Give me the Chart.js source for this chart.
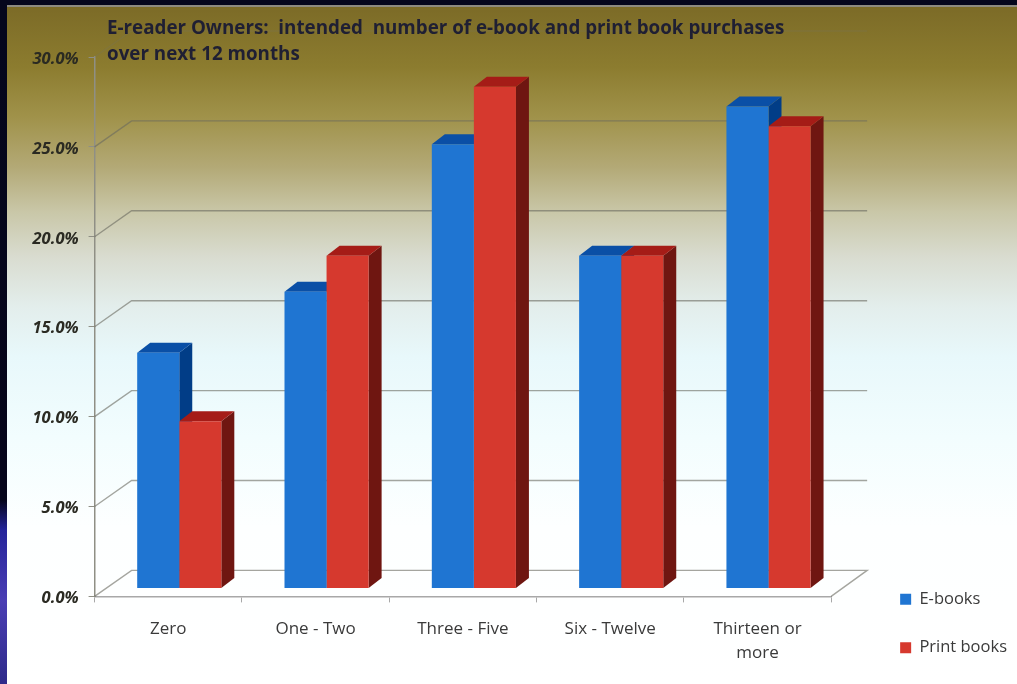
<!DOCTYPE html>
<html>
<head>
<meta charset="utf-8">
<script src="https://cdn.jsdelivr.net/npm/chart.js@4"></script>
<style>
    html, body { margin: 0; padding: 0; width: 1017px; height: 684px; overflow: hidden; }
    body { background: linear-gradient(180deg, #05061c 0, #05051a 500px, #24249a 530px, #4a3eb4 600px, #2e2a8a 684px); }
    #panel {
        position: absolute; left: 7px; top: 5px; width: 1010px; height: 679px;
        border-top: 2px solid #8d8a80; box-sizing: border-box;
        background: linear-gradient(180deg, #7c6b27 0, #8c7c2f 60px, #a0924a 110px, #b3a976 160px,
            #c9c7a8 205px, #d9dcd0 250px, #e3eeec 300px, #e8f8fb 350px, #f2fdfe 430px, #fdffff 520px, #ffffff 679px);
    }
    #wrap { position: absolute; left: 0; top: 0; width: 1017px; height: 684px; }
    canvas { filter: blur(0.5px); }
</style>
</head>
<body>
<div id="panel"></div>
<div id="wrap"><canvas id="purchaseChart" width="1017" height="684"></canvas></div>
<script>
// Values (percent of e-reader owners)
const categories = ['Zero', 'One - Two', 'Three - Five', 'Six - Twelve', ['Thirteen or', 'more']];
const ebooks = [13.1, 16.5, 24.7, 18.5, 26.8];
const printBooks = [9.3, 18.5, 27.9, 18.5, 25.7];
const titleLines = [
    'E-reader Owners:  intended  number of e-book and print book purchases',
    'over next 12 months'
];

// Fake 3D look: floor depth, and where the bars stand on that floor
const DEPTH_X = 37, DEPTH_Y = -26;
const BAR_SHIFT_X = 11, BAR_SHIFT_Y = -8;
const EXTRUDE_X = 13, EXTRUDE_Y = -10;

const extrudeColors = [
    { top: '#0a4fa6', side: '#013d87' },
    { top: '#a51c17', side: '#6f1611' }
];

function poly(ctx, pts, color) {
    ctx.fillStyle = color;
    ctx.beginPath();
    pts.forEach((p, i) => i ? ctx.lineTo(p[0], p[1]) : ctx.moveTo(p[0], p[1]));
    ctx.closePath();
    ctx.fill();
}

const wallsAndDepth = {
    id: 'wallsAndDepth',
    afterLayout(chart) {
        // legend sits further right and lower than the layout would put it
        chart.legend.left += 37;
        chart.legend.right += 37;
        chart.legend.top += 8;
        chart.legend.bottom += 8;
    },
    beforeDatasetsDraw(chart) {
        const ctx = chart.ctx;
        const area = chart.chartArea;
        const yScale = chart.scales.y;

        // back wall lines and their diagonals
        ctx.save();
        ctx.lineWidth = 1.4;
        yScale.ticks.forEach(t => {
            const y = yScale.getPixelForValue(t.value);
            ctx.strokeStyle = t.value === 30 ? 'rgba(120,115,90,0.3)' : 'rgba(105,105,95,0.6)';
            ctx.beginPath();
            ctx.moveTo(area.left, y);
            ctx.lineTo(area.left + DEPTH_X, y + DEPTH_Y);
            ctx.lineTo(area.right + DEPTH_X - 1, y + DEPTH_Y);
            if (t.value === 0) ctx.lineTo(area.right, y);
            ctx.stroke();
        });
        ctx.restore();

        // tops and sides of the bars, then the fronts come from the library
        ctx.save();
        ctx.translate(BAR_SHIFT_X, BAR_SHIFT_Y);
        chart.data.datasets.forEach((ds, i) => {
            chart.getDatasetMeta(i).data.forEach(bar => {
                const l = bar.x - bar.width / 2, r = bar.x + bar.width / 2;
                poly(ctx, [[r, bar.y], [r + EXTRUDE_X, bar.y + EXTRUDE_Y], [r + EXTRUDE_X, bar.base + EXTRUDE_Y], [r, bar.base]], extrudeColors[i].side);
                poly(ctx, [[l, bar.y], [l + EXTRUDE_X, bar.y + EXTRUDE_Y], [r + EXTRUDE_X, bar.y + EXTRUDE_Y], [r, bar.y]], extrudeColors[i].top);
            });
        });
        ctx.restore();

        ctx.save();
        ctx.translate(BAR_SHIFT_X, BAR_SHIFT_Y);
    },
    afterDatasetsDraw(chart) {
        chart.ctx.restore();

        // title sits on top of the plot, so it is not laid out by the library
        const ctx = chart.ctx;
        ctx.save();
        ctx.font = 'bold 18.8px "Open Sans"';
        ctx.fillStyle = '#1f1f33';
        ctx.textBaseline = 'middle';
        ctx.fillText(titleLines[0], 107, 29);
        ctx.fillText(titleLines[1], 107, 55);
        ctx.restore();
    }
};

new Chart(document.getElementById('purchaseChart'), {
    type: 'bar',
    data: {
        labels: categories,
        datasets: [
            { label: 'E-books', data: ebooks, backgroundColor: '#1f75d2', clip: false },
            { label: 'Print books', data: printBooks, backgroundColor: '#d6392e', clip: false }
        ]
    },
    plugins: [wallsAndDepth],
    options: {
        responsive: false,
        animation: false,
        categoryPercentage: 0.571,
        barPercentage: 1,
        layout: { padding: { top: 57, bottom: 4, left: 22.5, right: 37 } },
        scales: {
            x: {
                grid: { drawOnChartArea: false, drawTicks: true, tickLength: 6, color: '#a8a8a8' },
                border: { display: true, color: '#a8a8a8', width: 1.5 },
                ticks: { color: '#3a3a3a', font: { family: 'Open Sans', size: 17, lineHeight: 1.4 }, padding: 15, maxRotation: 0 }
            },
            y: {
                min: 0,
                max: 30,
                grid: { drawOnChartArea: false, drawTicks: true, tickLength: 6, color: '#8f8f85' },
                border: { display: true, color: '#8f8f85', width: 1.5 },
                ticks: {
                    stepSize: 5,
                    color: '#2a2a22',
                    padding: 10,
                    labelOffset: 2,
                    font: { family: 'Open Sans', size: 16.5, style: 'italic', weight: 'bold' },
                    callback: v => v.toFixed(1) + '%'
                }
            }
        },
        plugins: {
            title: { display: false },
            tooltip: { enabled: false },
            legend: {
                position: 'right',
                align: 'end',
                labels: {
                    boxWidth: 11,
                    boxHeight: 11,
                    padding: 32,
                    color: '#3a3a3a',
                    font: { family: 'Open Sans', size: 16.5 }
                }
            }
        }
    }
});
</script>
</body>
</html>
